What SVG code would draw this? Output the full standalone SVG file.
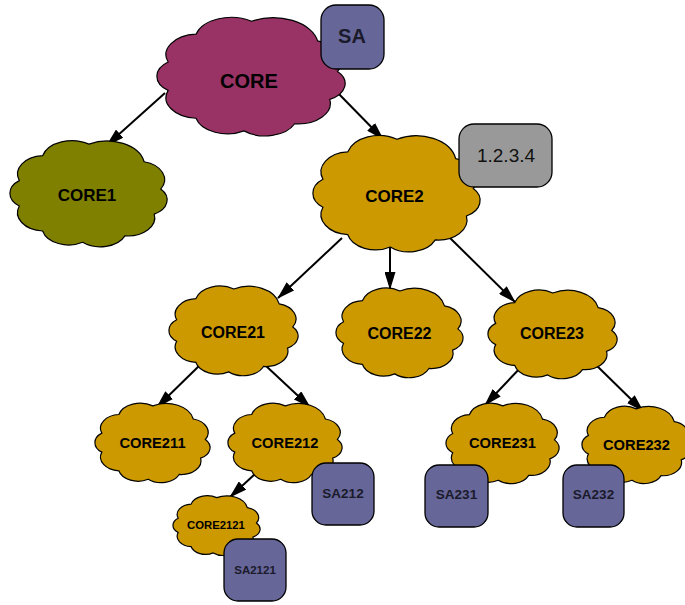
<svg xmlns="http://www.w3.org/2000/svg" xmlns:xlink="http://www.w3.org/1999/xlink" width="685" height="605" viewBox="0 0 685 605">
<style>
.cl{stroke:#000;stroke-width:1.2}
.box{stroke:#000;stroke-width:1.3}
.sa{fill:#666699}
.ip{fill:#999999}
.t{font-family:"Liberation Sans",Arial,sans-serif;font-weight:bold;text-anchor:middle;fill:#000}
.b{font-family:"Liberation Sans",Arial,sans-serif;font-weight:bold;text-anchor:middle;fill:#1a1a2a}
.r{font-family:"Liberation Sans",Arial,sans-serif;text-anchor:middle;fill:#111}
.e{stroke:#000;stroke-width:2;fill:none;marker-end:url(#ah)}
</style>
<defs>
<path id="cloud" vector-effect="non-scaling-stroke" transform="scale(1.0929,1.1364) translate(-4,-7)" d="M50,8 A22,22 0 0 1 82.17,23 A15.7,15.7 0 0 1 91.84,46.34 A13.5,13.5 0 0 1 88.06,67.75 A15.7,15.7 0 0 1 71,86.37 A15.7,15.7 0 0 1 46.34,91.84 A15.7,15.7 0 0 1 23,82.17 A15.7,15.7 0 0 1 9.43,60.87 A13.5,13.5 0 0 1 9.43,39.13 A15.7,15.7 0 0 1 23,17.83 A17.8,17.8 0 0 1 50,8 Z"/>
<marker id="ah" viewBox="0 0 18 11" refX="17" refY="5.5" markerWidth="18" markerHeight="11" markerUnits="userSpaceOnUse" orient="auto">
<path d="M0,0 L18,5.5 L0,11 Z" fill="#000"/>
</marker>
</defs>
<g id="connectors">
<line class="e" x1="165" y1="93" x2="107" y2="145"/>
<line class="e" x1="335" y1="90" x2="383" y2="139"/>
<line class="e" x1="342" y1="238" x2="278" y2="298"/>
<line class="e" x1="390" y1="245" x2="390" y2="289"/>
<line class="e" x1="448" y1="236" x2="515" y2="302"/>
<line class="e" x1="200" y1="365" x2="157" y2="407"/>
<line class="e" x1="265" y1="365" x2="310" y2="407"/>
<line class="e" x1="523" y1="365" x2="485" y2="405"/>
<line class="e" x1="593" y1="362" x2="643" y2="411"/>
<line class="e" x1="255" y1="474" x2="230" y2="497"/>
</g>
<g id="CORE">
<use xlink:href="#cloud" class="cl" fill="#993366" transform="translate(157,20) scale(1.88,1.15)"/>
<rect class="box sa" x="321" y="5" width="63" height="64" rx="15"/>
<text class="t" x="249" y="88" font-size="20">CORE</text>
<text class="b" x="352" y="43" font-size="20">SA</text>
</g>
<g id="CORE1">
<use xlink:href="#cloud" class="cl" fill="#808000" transform="translate(10,143) scale(1.57,1.03)"/>
<text class="t" x="87" y="201" font-size="17">CORE1</text>
</g>
<g id="CORE2">
<use xlink:href="#cloud" class="cl" fill="#cc9900" transform="translate(313,138) scale(1.67,1.13)"/>
<rect class="box ip" x="459" y="124" width="93" height="63" rx="15"/>
<text class="t" x="394.5" y="202" font-size="17">CORE2</text>
<text class="r" x="506" y="162" font-size="19">1.2.3.4</text>
</g>
<g id="CORE21">
<use xlink:href="#cloud" class="cl" fill="#cc9900" transform="translate(169,288) scale(1.29,0.87)"/>
<text class="t" x="233" y="338" font-size="16">CORE21</text>
</g>
<g id="CORE22">
<use xlink:href="#cloud" class="cl" fill="#cc9900" transform="translate(336,290) scale(1.27,0.87)"/>
<text class="t" x="399.5" y="339" font-size="16">CORE22</text>
</g>
<g id="CORE23">
<use xlink:href="#cloud" class="cl" fill="#cc9900" transform="translate(488,292) scale(1.29,0.86)"/>
<text class="t" x="552" y="339" font-size="16">CORE23</text>
</g>
<g id="CORE211">
<use xlink:href="#cloud" class="cl" fill="#cc9900" transform="translate(95,405) scale(1.15,0.77)"/>
<text class="t" x="152.5" y="448" font-size="14.7">CORE211</text>
</g>
<g id="CORE212">
<use xlink:href="#cloud" class="cl" fill="#cc9900" transform="translate(228,405) scale(1.14,0.77)"/>
<rect class="box sa" x="312" y="463" width="62" height="62" rx="14"/>
<text class="t" x="285" y="448" font-size="14.7">CORE212</text>
<text class="b" x="343" y="498" font-size="13.5">SA212</text>
</g>
<g id="CORE2121">
<use xlink:href="#cloud" class="cl" fill="#cc9900" transform="translate(173,497) scale(0.87,0.58)"/>
<rect class="box sa" x="224" y="539" width="62" height="62" rx="14"/>
<text class="t" x="216" y="529" font-size="11.3">CORE2121</text>
<text class="b" x="255" y="574" font-size="11.5">SA2121</text>
</g>
<g id="CORE231">
<use xlink:href="#cloud" class="cl" fill="#cc9900" transform="translate(446,405) scale(1.13,0.78)"/>
<rect class="box sa" x="425" y="465" width="63" height="62" rx="14"/>
<text class="t" x="502.5" y="448" font-size="14.7">CORE231</text>
<text class="b" x="456.5" y="499" font-size="13.5">SA231</text>
</g>
<g id="CORE232">
<use xlink:href="#cloud" class="cl" fill="#cc9900" transform="translate(582,408) scale(1.08,0.75)"/>
<rect class="box sa" x="563" y="465" width="61" height="62" rx="14"/>
<text class="t" x="636.5" y="450" font-size="14.7">CORE232</text>
<text class="b" x="593.5" y="499" font-size="13.5">SA232</text>
</g>
</svg>
